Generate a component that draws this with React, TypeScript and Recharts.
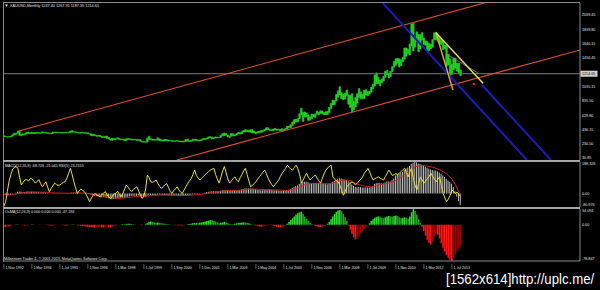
import { ComposedChart, Bar, Line, XAxis, YAxis, ReferenceLine, ReferenceDot, Cell } from 'recharts'

const FONT = '"Liberation Sans", Arial, sans-serif'
const TXT = '#e2e2e2'
const FRAME = '#8a8a8a'

// one bar per month (the terminal's history has a few doubled months 1999-2005)
const dateLabels = [
  '1 Nov 1992', '1 Mar 1994', '1 Jul 1995', '1 Nov 1996', '1 Mar 1998', '1 Jul 1999',
  '1 Sep 2000', '1 Dec 2001', '1 Mar 2003', '1 May 2004', '1 Jul 2005', '1 Nov 2006',
  '1 Mar 2008', '1 Jul 2009', '1 Nov 2010', '1 Mar 2012', '1 Jul 2013',
]
const labelBars = [0, 16, 32, 48, 64, 80, 96, 112, 128, 144, 160, 176, 192, 208, 224, 240, 256]

const highs = [
  345, 337, 331, 333, 338, 358, 378, 379, 407, 406, 359, 372, 373, 393, 396, 385,
  393, 387, 389, 391, 388, 385, 398, 396, 392, 385, 380, 381, 396, 396, 392, 392,
  389, 389, 388, 388, 390, 391, 407, 416, 401, 398, 394, 389, 388, 392, 389, 386,
  385, 373, 370, 366, 359, 347, 349, 349, 335, 332, 337, 338, 318, 299, 308, 305,
  302, 315, 305, 298, 297, 292, 300, 305, 300, 298, 293, 293, 291, 290, 290, 266,
  264, 258, 310, 338, 303, 292, 292, 290, 315, 300, 287, 283, 293, 292, 282, 280,
  275, 273, 272, 275, 272, 268, 270, 268, 293, 296, 272, 280, 294, 292, 294, 284,
  282, 292, 304, 304, 311, 328, 330, 326, 316, 327, 325, 322, 349, 372, 382, 376,
  352, 341, 376, 372, 358, 375, 390, 389, 399, 417, 428, 425, 419, 430, 428, 410,
  395, 402, 408, 415, 418, 432, 456, 457, 430, 428, 437, 447, 437, 435, 434, 443,
  430, 448, 474, 480, 497, 538, 572, 574, 587, 654, 730, 675, 677, 664, 637, 607,
  649, 640, 652, 690, 672, 694, 690, 671, 682, 684, 745, 795, 845, 838, 924, 975,
  1033, 948, 924, 944, 987, 917, 912, 934, 827, 880, 933, 1006, 959, 924, 985, 989,
  962, 966, 1025, 1070, 1195, 1226, 1162, 1125, 1140, 1180, 1249, 1265, 1214, 1248, 1313, 1388,
  1424, 1431, 1424, 1411, 1447, 1576, 1577, 1552, 1632, 1913, 1921, 1730, 1803, 1764, 1764, 1792,
  1716, 1678, 1667, 1640, 1628, 1693, 1790, 1796, 1754, 1724, 1694, 1682, 1617, 1608, 1487, 1424,
  1349, 1434, 1434, 1362, 1361, 1268,
]

const lows = [
  332, 330, 326, 326, 326, 336, 354, 364, 380, 349, 342, 355, 360, 367, 375, 373,
  376, 372, 374, 378, 379, 376, 384, 387, 381, 375, 371, 372, 374, 387, 382, 384,
  381, 380, 381, 381, 383, 384, 387, 392, 394, 389, 387, 380, 380, 383, 378, 378,
  370, 366, 345, 341, 345, 335, 338, 333, 318, 320, 318, 306, 296, 283, 278, 292,
  290, 298, 290, 288, 289, 272, 275, 289, 291, 285, 284, 283, 278, 280, 267, 256,
  253, 252, 254, 290, 289, 280, 280, 281, 282, 276, 272, 268, 271, 274, 271, 272,
  266, 263, 264, 268, 262, 255, 257, 255, 264, 267, 263, 264, 272, 278, 278, 271,
  273, 277, 288, 289, 298, 308, 315, 300, 301, 311, 313, 315, 318, 344, 345, 348,
  326, 319, 339, 342, 341, 352, 369, 369, 373, 395, 398, 400, 395, 393, 381, 383,
  371, 384, 387, 389, 398, 410, 424, 426, 418, 415, 412, 425, 421, 422, 414, 414,
  417, 429, 436, 460, 456, 489, 515, 538, 537, 582, 640, 543, 605, 609, 560, 560,
  587, 610, 603, 648, 637, 656, 650, 640, 640, 642, 668, 725, 776, 780, 833, 884,
  915, 863, 850, 859, 906, 786, 740, 681, 705, 747, 801, 884, 865, 866, 867, 916,
  905, 928, 954, 1003, 1041, 1074, 1075, 1044, 1087, 1111, 1162, 1201, 1155, 1176, 1245, 1307,
  1334, 1360, 1308, 1330, 1383, 1418, 1462, 1495, 1478, 1606, 1535, 1587, 1667, 1523, 1563, 1689,
  1627, 1613, 1527, 1541, 1565, 1587, 1689, 1691, 1672, 1636, 1626, 1554, 1562, 1321, 1338, 1180,
  1208, 1270, 1293, 1251, 1227, 1187,
]

const macd = [
  -9, -9, -10, -10, -9, -5, 1, 5, 11, 12, 10, 9, 9, 11, 12, 11,
  11, 9, 8, 8, 7, 6, 7, 7, 5, 3, 1, 0, 1, 2, 2, 2,
  1, 1, 1, 0, 1, 1, 3, 5, 5, 5, 4, 2, 1, 1, 0, -1,
  -3, -5, -9, -12, -14, -17, -18, -19, -22, -23, -24, -25, -29, -33, -34, -33,
  -32, -29, -28, -27, -25, -25, -22, -19, -17, -15, -14, -13, -13, -12, -13, -16,
  -19, -20, -14, -10, -9, -9, -9, -9, -7, -7, -8, -9, -9, -9, -10, -10,
  -11, -12, -12, -12, -12, -13, -14, -14, -12, -10, -9, -8, -5, -4, -3, -3,
  -2, 0, 3, 5, 7, 10, 12, 13, 13, 14, 14, 14, 16, 19, 21, 21,
  20, 18, 19, 19, 18, 19, 21, 22, 24, 27, 29, 30, 30, 30, 28, 26,
  24, 22, 21, 20, 20, 21, 23, 24, 22, 21, 20, 20, 19, 18, 17, 17,
  16, 17, 20, 23, 27, 32, 39, 44, 48, 56, 64, 68, 70, 70, 67, 63,
  62, 62, 62, 63, 62, 62, 60, 57, 55, 55, 58, 63, 70, 75, 82, 88,
  91, 89, 85, 82, 80, 73, 66, 53, 44, 39, 37, 38, 38, 36, 36, 36,
  35, 35, 39, 45, 57, 61, 62, 61, 60, 61, 66, 72, 71, 72, 79, 89,
  108, 118, 120, 124, 130, 140, 150, 155, 165, 178, 184, 188.326, 186, 180, 176, 172,
  165, 160, 154, 148, 143, 140, 138, 136, 132, 126, 118, 108, 98, 88, 78, 68,
  58, 38, 14, -18, -46, -68.726,
]

const signal = [
  -7, -7.5, -8, -8.5, -8.6, -7.9, -6.1, -3.9, -0.9, 1.7, 3.4, 4.5, 5.4, 6.5, 7.6, 8.3,
  8.8, 8.9, 8.7, 8.6, 8.3, 7.8, 7.6, 7.5, 7, 6.2, 5.2, 4.2, 3.5, 3.2, 3, 2.8,
  2.4, 2.1, 1.9, 1.5, 1.4, 1.3, 1.6, 2.3, 3, 3.4, 3.5, 3.2, 2.8, 2.4, 1.9, 1.3,
  0.4, -0.7, -2.4, -4.3, -6.3, -8.4, -10.3, -12, -14, -15.8, -17.4, -18.9, -20.9, -23.3, -25.4, -27,
  -28, -28.2, -28.2, -28, -27.4, -26.9, -26, -24.6, -23.1, -21.5, -20, -18.6, -17.5, -16.4, -15.7, -15.8,
  -16.4, -17.1, -16.5, -15.2, -14, -13, -12.2, -11.6, -10.7, -10, -9.6, -9.5, -9.4, -9.3, -9.5, -9.6,
  -9.9, -10.3, -10.7, -11, -11.2, -11.5, -12, -12.4, -12.3, -11.9, -11.3, -10.6, -9.5, -8.4, -7.3, -6.4,
  -5.5, -4.4, -2.9, -1.3, 0.4, 2.3, 4.2, 6, 7.4, 8.7, 9.8, 10.6, 11.7, 13.2, 14.8, 16,
  16.8, 17.1, 17.5, 17.8, 17.8, 18.1, 18.6, 19.3, 20.2, 21.6, 23.1, 24.5, 25.6, 26.5, 26.8, 26.6,
  26.1, 25.3, 24.4, 23.5, 22.8, 22.4, 22.5, 22.8, 22.6, 22.3, 21.8, 21.5, 21, 20.4, 19.7, 19.2,
  18.6, 18.3, 18.6, 19.5, 21, 23.2, 26.4, 29.9, 33.5, 38, 43.2, 48.2, 52.6, 56, 58.2, 59.2,
  59.8, 60.2, 60.5, 61, 61.2, 61.4, 61.1, 60.3, 59.2, 58.3, 58.3, 59.3, 61.4, 64.2, 67.8, 71.8,
  75.6, 78.3, 79.7, 80.1, 80.1, 78.7, 76.2, 71.6, 66.1, 60.7, 56, 52.4, 49.5, 46.8, 44.6, 42.9,
  41.3, 40, 39.8, 40.9, 44.1, 47.5, 50.4, 52.5, 54, 55.4, 57.5, 60.4, 62.5, 64.4, 67.3, 71.6,
  78, 86, 93, 100, 106, 113, 120, 127, 134, 142, 150, 157, 163, 166, 168, 168,
  167, 166, 164, 162, 160, 157, 154, 150, 146, 142, 137, 131, 124, 116, 107, 97,
  86, 70, 52, 32, 6, -21.045,
]

const rsi = [
  1, 12, 35, 58, 72, 84, 88, 90, 86, 66, 49, 55, 60, 61, 58, 63,
  63, 58, 53, 57, 61, 52, 45, 50, 56, 44, 34, 41, 47, 53, 50, 48,
  49, 52, 55, 56, 64, 75, 86, 72, 56, 42, 30, 36, 40, 37, 34, 28,
  20, 12, 20, 26, 30, 27, 25, 23, 28, 31, 34, 27, 22, 19, 24, 29,
  30, 35, 28, 23, 30, 40, 49, 44, 38, 34, 39, 42, 45, 36, 27, 19,
  24, 40, 71, 65, 56, 55, 57, 60, 52, 46, 41, 45, 49, 52, 44, 35,
  30, 36, 40, 45, 38, 33, 30, 38, 45, 52, 58, 63, 72, 82, 70, 64,
  60, 64, 68, 72, 75, 79, 82, 84, 86, 72, 62, 53, 66, 80, 90, 76,
  62, 53, 58, 63, 67, 60, 56, 65, 72, 80, 86, 72, 58, 45, 48, 52,
  56, 62, 67, 72, 77, 82, 74, 64, 56, 50, 45, 50, 55, 60, 68, 75,
  80, 86, 93, 88, 84, 82, 88, 93, 85, 72, 53, 60, 68, 75, 66, 60,
  64, 68, 71, 64, 58, 53, 64, 74, 82, 87, 90, 93, 67, 62, 58, 56,
  48, 38, 26, 34, 45, 50, 53, 56, 52, 50, 53, 58, 62, 67, 75, 80,
  86, 78, 68, 60, 63, 65, 67, 64, 62, 60, 68, 75, 82, 76, 70, 72,
  74, 72, 75, 79, 83, 86, 76, 67, 78, 86, 62, 48, 38, 52, 67, 60,
  53, 58, 63, 68, 75, 68, 62, 56, 62, 67, 48, 30, 20, 12, 18, 26,
  38, 34, 30, 33, 28, 23.2155,
]

const osma = [
  -5, -5, -4, -4, -3, -1, 0, 0.5, 0.5, 0, -0.5, -1, -2, -1.5, -0.5, 0,
  0.5, 0.5, 0, 0, -0.5, -0.5, 0, 0, -0.5, -1, -1.5, -2, -2, -1, -0.5, 0,
  0, -0.5, -1, -2, -2, -1, 0, 0.5, 0.5, 0, -1, -2, -2.5, -3, -3.5, -4,
  -4.5, -5, -5.5, -6, -6.5, -6, -5.5, -5, -6, -6, -5, -4.5, -5, -6, -5, -3.5,
  -2.5, -1, 0, 0.5, 1, 1, 1.5, 2, 2, 1.5, 1, 0.5, 0, 0, -0.5, -1,
  0, 1, 4, 6, 7, 6, 5, 4.5, 5, 4, 3, 2.5, 2, 1.5, 1, 0.5,
  0, -0.5, -1, -1, -1, -1.5, -1.5, -1, 0, 1, 1.5, 2, 3, 3.5, 3.5, 3,
  4, 5, 6, 7, 8, 9, 10, 9.5, 8, 7, 5, 3, 4, 5, 6, 5,
  3, 1.5, 1, 1, 2, 3, 4, 4.5, 5, 5, 4.5, 4, 3, 2, 0.5, -1,
  -2, -3, -4, -4.5, -4, -3, -2, -1, -0.5, -1, -2, -3, -4.5, -5.5, -6, -5.5,
  -4, -2, 2, 6, 10, 14, 18, 22, 25, 27, 28, 24, 18, 13, 8, 4,
  1, -1, -3, -4, -5, -5, -4.5, -3, -1, 2, 6, 12, 18, 23, 28, 31,
  32, 29, 23, 16, 8, -2, -11, -20, -28, -32, -30, -25, -19, -14, -9, -5,
  -1, 3, 8, 12, 15, 17, 18, 17, 15, 14, 16, 18, 19, 18, 17, 19,
  20, 19, 16, 14, 15, 16, 15, 13, 18, 27, 34.094, 30, 22, 12, 4, -5,
  -14, -24, -33, -40, -43, -36, -25, -19, -22, -30, -40, -50, -58, -66, -72, -76,
  -78.847, -72, -65, -58, -52, -47.194,
]

const priceTicks = [2039.45, 1839.8, 1640.15, 1434.45, 1214.65, 1035.15, 835.5, 629.8, 430.15, 230.5, 30.85]
const lastPrice = 1214.65
const priceDomain = [2.76, 2208]
const macdDomain = [-80.976, 188.326]
const osmaDomain = [-78.847, 34.094]
const barDomain = [-0.5, 329.2]

// hand drawn objects, anchored in (bar, price) like the terminal stores them
const channelUpper = [{ x: 8, y: 407 }, { x: 330, y: 2584 }]
const channelLower = [{ x: 98.9, y: 2.76 }, { x: 330, y: 1553 }]
const blueUpper = [{ x: 216.5, y: 2208 }, { x: 298.9, y: 2.76 }]
const blueLower = [{ x: 273.2, y: 1056 }, { x: 312.6, y: 2.76 }]
const wedgeShort = [{ x: 246.9, y: 1791 }, { x: 256.6, y: 986 }]
const wedgeLong = [{ x: 246.9, y: 1791 }, { x: 273.8, y: 1080 }]
const wedgeMid = [{ x: 253.8, y: 1478 }, { x: 270.9, y: 1225 }]
const arrowMark = { x: 268.5, y: 1070 }

const rows = highs.map((h, i) => ({
  i,
  high: h,
  low: lows[i],
  macd: macd[i],
  signal: signal[i],
  rsi: rsi[i],
  osma: osma[i],
}))

const osmaColor = (i: number) => {
  const v = osma[i]
  const prev = i > 0 ? osma[i - 1] : v
  if (v >= 0) return v >= prev ? '#2ed82e' : '#1fa81f'
  return v <= prev ? '#ff1414' : '#a00000'
}

function PriceTick({ x, y, payload }: any) {
  const v = payload.value as number
  if (v === lastPrice) {
    return (
      <g>
        <rect x={x - 1.5} y={y - 3} width={17} height={6} fill="#d2d2d2" />
        <text x={x} y={y + 1.4} fontSize={3.7} fontFamily={FONT} fill="#000">{v.toFixed(2)}</text>
      </g>
    )
  }
  return <text x={x} y={y + 1.4} fontSize={3.7} fontFamily={FONT} fill={TXT}>{v.toFixed(2)}</text>
}

function makeRangeTick(domain: number[], topDy: number, bottomDy: number) {
  return ({ x, y, payload }: any) => {
    const v = payload.value as number
    const dy = v === domain[1] ? topDy : v === domain[0] ? bottomDy : 1.4
    return (
      <text x={x} y={y + dy} fontSize={3.7} fontFamily={FONT} fill={TXT}>
        {v === 0 ? '0.00' : String(v)}
      </text>
    )
  }
}

function DateTick({ x, y, payload }: any) {
  const label = dateLabels[labelBars.indexOf(payload.value)]
  return (
    <g>
      <line x1={x} x2={x} y1={y + 3} y2={y + 8} stroke="#a0a0a0" strokeWidth={0.6} />
      <text x={x + 1.5} y={y + 7.5} fontSize={3.6} fontFamily={FONT} fill={TXT}>{label}</text>
    </g>
  )
}

const MacdTick = makeRangeTick(macdDomain, 3.4, -1.3)
const OsmaTick = makeRangeTick(osmaDomain, 3.4, -0.6)

export default function App() {
  return (
    <div style={{ position: 'fixed', left: 0, top: 0, width: 600, height: 290, background: '#000', overflow: 'hidden' }}>
      {/* price window */}
      <div style={{ position: 'absolute', left: 0, top: 0 }}>
        <ComposedChart width={600} height={162} data={rows} margin={{ top: 3, right: 0, bottom: 2, left: 3 }}>
          <XAxis dataKey="i" type="number" domain={barDomain} hide allowDataOverflow />
          <YAxis
            orientation="right"
            width={20}
            domain={priceDomain}
            ticks={priceTicks}
            interval={0}
            allowDataOverflow
            tickSize={0}
            tickMargin={2}
            tickLine={false}
            axisLine={{ stroke: FRAME }}
            tick={<PriceTick />}
          />
          <ReferenceLine y={lastPrice} stroke="#7c7c7c" strokeWidth={1} ifOverflow="hidden" />
          <ReferenceLine segment={channelUpper} stroke="#e2522a" strokeWidth={1.1} ifOverflow="hidden" />
          <ReferenceLine segment={channelLower} stroke="#e2522a" strokeWidth={1.1} ifOverflow="hidden" />
          <ReferenceLine segment={blueUpper} stroke="#1c1cb4" strokeWidth={2} ifOverflow="hidden" />
          <ReferenceLine segment={blueLower} stroke="#1c1cb4" strokeWidth={2} ifOverflow="hidden" />
          <Bar
            dataKey={(d: any) => [d.low, d.high]}
            fill="#22d422"
            stroke="#22d422"
            strokeWidth={0.6}
            barSize={2}
            isAnimationActive={false}
          />
          <ReferenceLine segment={wedgeMid} stroke="#8c8c8c" strokeWidth={0.8} ifOverflow="hidden" />
          <ReferenceLine segment={wedgeShort} stroke="#dcae34" strokeWidth={1.4} ifOverflow="hidden" />
          <ReferenceLine segment={wedgeLong} stroke="#efe05a" strokeWidth={1.4} ifOverflow="hidden" />
          <ReferenceDot x={arrowMark.x} y={arrowMark.y} r={1.3} fill="#e02020" stroke="none" ifOverflow="hidden" />
        </ComposedChart>
      </div>

      {/* MACD + RSI window */}
      <div style={{ position: 'absolute', left: 0, top: 160 }}>
        <ComposedChart width={600} height={49} data={rows} margin={{ top: 2, right: 0, bottom: 2, left: 3 }}>
          <XAxis dataKey="i" type="number" domain={barDomain} hide allowDataOverflow />
          <YAxis
            yAxisId="m"
            orientation="right"
            width={20}
            domain={macdDomain}
            ticks={[188.326, 0, -80.976]}
            interval={0}
            allowDataOverflow
            tickSize={0}
            tickMargin={2}
            tickLine={false}
            axisLine={{ stroke: FRAME }}
            tick={<MacdTick />}
          />
          <YAxis yAxisId="r" hide domain={[0, 100]} allowDataOverflow />
          <Bar yAxisId="m" dataKey="macd" fill="#bdbdbd" barSize={1} isAnimationActive={false} />
          <Line yAxisId="m" dataKey="signal" stroke="#d42020" strokeWidth={1} dot={false} isAnimationActive={false} />
          <Line yAxisId="r" dataKey="rsi" stroke="#ece428" strokeWidth={1} dot={false} isAnimationActive={false} />
        </ComposedChart>
      </div>

      {/* OsMA window with the time scale */}
      <div style={{ position: 'absolute', left: 0, top: 207 }}>
        <ComposedChart width={600} height={66} data={rows} margin={{ top: 2, right: 0, bottom: 0, left: 3 }}>
          <XAxis
            dataKey="i"
            type="number"
            domain={barDomain}
            allowDataOverflow
            ticks={labelBars}
            interval={0}
            height={12}
            tickSize={0}
            tickMargin={0}
            tickLine={false}
            axisLine={{ stroke: FRAME }}
            tick={<DateTick />}
          />
          <YAxis
            orientation="right"
            width={20}
            domain={osmaDomain}
            ticks={[34.094, 0, -78.847]}
            interval={0}
            allowDataOverflow
            tickSize={0}
            tickMargin={2}
            tickLine={false}
            axisLine={{ stroke: FRAME }}
            tick={<OsmaTick />}
          />
          <Bar dataKey="osma" barSize={2} isAnimationActive={false}>
            {rows.map((r) => (
              <Cell key={r.i} fill={osmaColor(r.i)} />
            ))}
          </Bar>
        </ComposedChart>
      </div>

      {/* terminal frame and captions */}
      <svg width={600} height={290} style={{ position: 'absolute', left: 0, top: 0, pointerEvents: 'none' }}>
        <line x1={3.5} y1={2.5} x2={3.5} y2={262} stroke={FRAME} />
        <line x1={3} y1={2.5} x2={580} y2={2.5} stroke={FRAME} />
        <rect x={3} y={160} width={577} height={2} fill="#a6a6a6" />
        <rect x={3} y={207} width={577} height={2} fill="#a6a6a6" />
        <polygon points="5,4.6 8,4.6 6.5,6.8" fill={TXT} />
        <text x={10} y={7.2} fontSize={3.8} fontFamily={FONT} fill={TXT}>
          XAUUSD,Monthly  1247.40 1267.95 1187.35 1214.65
        </text>
        <text x={5} y={166.6} fontSize={3.7} fontFamily={FONT} fill={TXT}>
          MACD(12,26,9) -68.726 -21.045 RSI(5) 23.2155
        </text>
        <text x={5} y={213.4} fontSize={3.7} fontFamily={FONT} fill={TXT}>
          OsMA(12,26,9) 0.000 0.000 0.000 -47.194
        </text>
        <text x={4} y={259.8} fontSize={3.7} fontFamily={FONT} fill={TXT}>
          Millennium Trader 4, © 2001-2013, MetaQuotes Software Corp.
        </text>
      </svg>

      <div
        style={{
          position: 'absolute',
          left: 446,
          top: 270,
          height: 18,
          lineHeight: '18px',
          fontSize: 15,
          fontFamily: FONT,
          color: '#ffffff',
          whiteSpace: 'nowrap',
          transform: 'scaleX(0.88)',
          transformOrigin: 'left center',
        }}
      >
        [1562x614]http://uplc.me/
      </div>
    </div>
  )
}
